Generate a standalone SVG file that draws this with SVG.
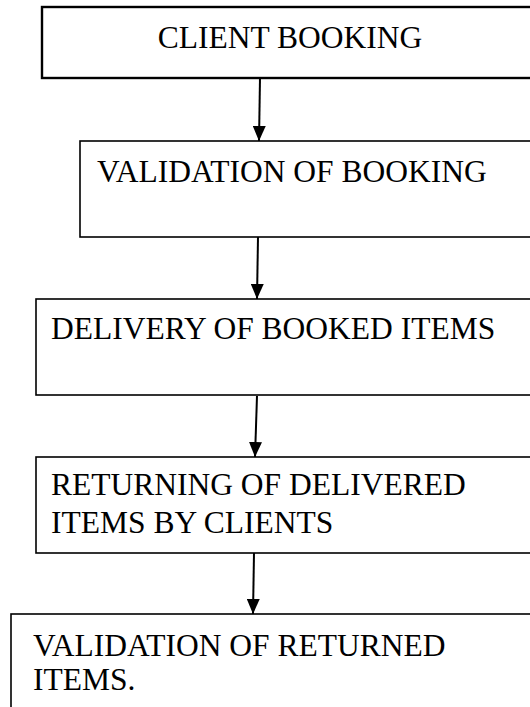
<svg xmlns="http://www.w3.org/2000/svg" width="530" height="707" viewBox="0 0 530 707">
  <defs>
    <!-- solid triangular head, drawn along +x so orient="auto" points it down the line -->
    <marker id="arrowhead" markerWidth="15" markerHeight="13" refX="15" refY="6.5" orient="auto" markerUnits="userSpaceOnUse" viewBox="0 0 15 13">
      <path d="M0,0 L15,6.5 L0,13 Z" fill="#000"/>
    </marker>
  </defs>
  <style>
    .box { fill: #fff; stroke: #000; stroke-width: 1.6; }
    .box-thick { fill: #fff; stroke: #000; stroke-width: 2.4; }
    .label { font-family: "Liberation Serif", "Times New Roman", serif; font-size: 31.5px; fill: #000; }
    .link { stroke: #000; stroke-width: 2; fill: none; }
  </style>
  <rect width="530" height="707" fill="#fff"/>

  <g id="client-booking">
    <rect class="box-thick" x="42" y="7" width="500" height="71"/>
    <text class="label" x="290" y="48" text-anchor="middle">CLIENT BOOKING</text>
  </g>

  <g id="validation-of-booking">
    <rect class="box" x="80" y="141" width="465" height="96"/>
    <text class="label" x="97" y="182">VALIDATION OF BOOKING</text>
  </g>

  <g id="delivery-of-booked-items">
    <rect class="box" x="36" y="299" width="509" height="96"/>
    <text class="label" x="51" y="339">DELIVERY OF BOOKED ITEMS</text>
  </g>

  <g id="returning-of-delivered-items">
    <rect class="box" x="36" y="457" width="509" height="96"/>
    <text class="label" x="51" y="495">RETURNING OF DELIVERED</text>
    <text class="label" x="51" y="533">ITEMS BY CLIENTS</text>
  </g>

  <g id="validation-of-returned-items">
    <rect class="box" x="11" y="614" width="535" height="110"/>
    <text class="label" x="33" y="656">VALIDATION OF RETURNED</text>
    <text class="label" x="33" y="690">ITEMS.</text>
  </g>

  <g id="connectors">
    <line class="link" x1="260" y1="78" x2="259" y2="141" marker-end="url(#arrowhead)"/>
    <line class="link" x1="258" y1="237" x2="257" y2="299" marker-end="url(#arrowhead)"/>
    <line class="link" x1="257" y1="396" x2="255" y2="457" marker-end="url(#arrowhead)"/>
    <line class="link" x1="254" y1="553" x2="253" y2="614" marker-end="url(#arrowhead)"/>
  </g>
</svg>
